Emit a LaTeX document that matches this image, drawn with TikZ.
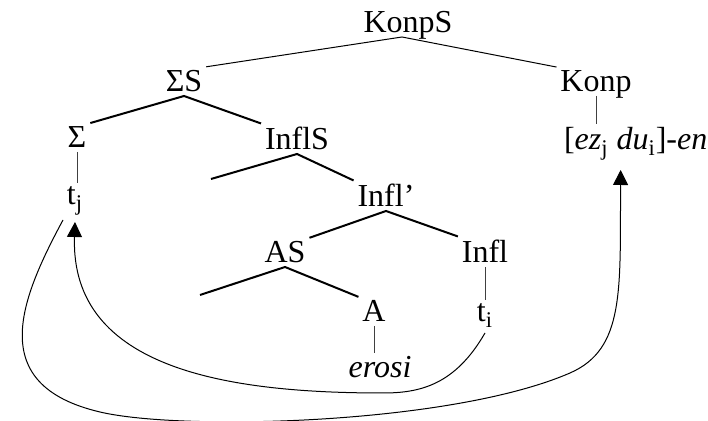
\documentclass[tikz,border=0pt]{standalone}
\usepackage{fontspec}
\setmainfont{Liberation Serif}
\usepackage{tikz}
\usetikzlibrary{arrows.meta}
\tikzset{
  lab/.style={inner sep=0pt, outer sep=2pt, text depth=0pt, font=\fontsize{16}{19}\selectfont},
  topbranch/.style={line width=0.5pt},
  branch/.style={line width=1pt},
  stem/.style={line width=0.4pt, black!75},
  move/.style={line width=0.5pt, -{Triangle[length=7.5pt,width=7.5pt]}}
}
\begin{document}
\begin{tikzpicture}[x=0.5pt,y=-0.5pt]
\useasboundingbox (0,0) rectangle (708,421);

\node [lab,anchor=base] (KonpS) at (408,33) {KonpS};
\node [lab,anchor=base] (SigmaS) at (184,92) {ΣS};
\node [lab,anchor=base] (Konp) at (596,92) {Konp};
\node [lab,anchor=base] (Sigma) at (77,148) {Σ};
\node [lab,anchor=base] (InflS) at (297,150) {InflS};
\node [lab,anchor=base west] (ez) at (560,150) {[\textit{ez}\textsubscript{j} \textit{du}\textsubscript{i}]-\textit{en}};
\node [lab,anchor=base] (tj) at (75,205) {t\textsubscript{j}};
\node [lab,anchor=base] (Inflp) at (386,207) {Infl’};
\node [lab,anchor=base] (AS) at (285,263) {AS};
\node [lab,anchor=base] (Infl) at (485,263) {Infl};
\node [lab,anchor=base] (A) at (374,322) {A};
\node [lab,anchor=base] (ti) at (485,322) {t\textsubscript{i}};
\node [lab,anchor=base] (erosi) at (380,378) {\textit{erosi}};
\coordinate (InflSl) at (211,179);
\coordinate (ASl) at (200,295);

\draw [topbranch] (SigmaS.north east) -- ([xshift=-3pt]KonpS.south) -- (Konp.north west);
\draw [branch] (Sigma.north east) -- (SigmaS.south) -- (InflS.north west);
\draw [branch] (InflSl) -- (InflS.south) -- (Inflp.north west);
\draw [branch] (AS.north east) -- (Inflp.south) -- (Infl.north west);
\draw [branch] (ASl) -- (AS.south) -- (A.north west);

\draw [stem] (Sigma.south) -- (Sigma.south |- tj.north);
\draw [stem] (Konp.south) -- (Konp.south |- ez.north);
\draw [stem] (Infl.south) -- (Infl.south |- ti.north);
\draw [stem] (A.south) -- (A.south |- erosi.north);

\draw [move] ([yshift=-3.5pt]ti.south) .. controls (455,385) and (420,393) .. (383,393)
  .. controls (230,393) and (70,370) .. ([yshift=-6.5pt]tj.south);
\draw [move] ([xshift=-6pt,yshift=-5.5pt]tj.south) .. controls (20,300) and (-15,385) .. (100,412)
  .. controls (180,431) and (450,425) .. (570,373)
  .. controls (625,349) and (620,290) .. ([xshift=-7.5pt,yshift=-8pt]ez.south);
\end{tikzpicture}
\end{document}
